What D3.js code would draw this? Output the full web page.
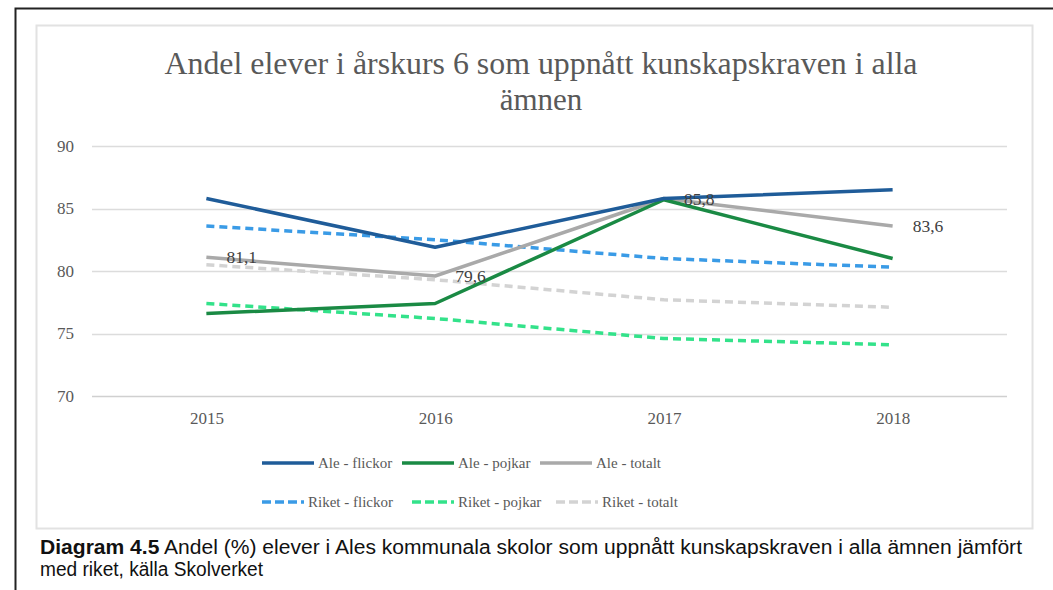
<!DOCTYPE html>
<html>
<head>
<meta charset="utf-8">
<script src="https://cdn.jsdelivr.net/npm/d3@7"></script>
<style>
  body { margin: 0; background: #fff; }
  svg { display: block; }
</style>
</head>
<body>
<div id="chart"></div>
<script>
// data
var years = ["2015", "2016", "2017", "2018"];
var yTicks = [70, 75, 80, 85, 90];
var aleFlickor = [85.8, 81.9, 85.8, 86.5];
var alePojkar = [76.6, 77.4, 85.7, 81.0];
var aleTotalt = [81.1, 79.6, 85.8, 83.6];
var riketFlickor = [83.6, 82.5, 81.0, 80.3];
var riketPojkar = [77.4, 76.2, 74.6, 74.1];
var riketTotalt = [80.5, 79.3, 77.7, 77.1];
var labelled = ["81,1", "79,6", "85,8", "83,6"]; // labels on Ale - totalt

var series = [
  {name: "Ale - flickor", values: aleFlickor, color: "#1f5c99", dash: null},
  {name: "Ale - pojkar", values: alePojkar, color: "#1a8a44", dash: null},
  {name: "Ale - totalt", values: aleTotalt, color: "#a9a9a9", dash: null},
  {name: "Riket - flickor", values: riketFlickor, color: "#3a9be6", dash: "8,5"},
  {name: "Riket - pojkar", values: riketPojkar, color: "#33e28a", dash: "8,5"},
  {name: "Riket - totalt", values: riketTotalt, color: "#d3d3d3", dash: "8,5"}
];
// draw order: dashed ones underneath
var drawOrder = [3, 4, 5, 2, 1, 0];

var W = 1053, H = 590;
var svg = d3.select("#chart").append("svg")
  .attr("width", W)
  .attr("height", H);

// page frame
svg.append("path")
  .attr("d", "M15.5," + H + "V8.5H" + W)
  .attr("fill", "none")
  .attr("stroke", "#222")
  .attr("stroke-width", 2);

// chart box
svg.append("rect")
  .attr("x", 36.5).attr("y", 25.5)
  .attr("width", 996).attr("height", 503)
  .attr("fill", "#fff")
  .attr("stroke", "#e2e2e2")
  .attr("stroke-width", 2);

var serif = "'Liberation Serif', 'DejaVu Serif', serif";

// title
var title = svg.append("text")
  .attr("text-anchor", "middle")
  .attr("font-family", serif)
  .attr("font-size", 31)
  .attr("fill", "#595959");
title.append("tspan").attr("x", 541).attr("y", 74)
  .attr("textLength", 753)
  .attr("lengthAdjust", "spacingAndGlyphs")
  .text("Andel elever i årskurs 6 som uppnått kunskapskraven i alla");
title.append("tspan").attr("x", 541).attr("y", 110)
  .text("ämnen");

// scales
var x = d3.scalePoint()
  .domain(years)
  .range([92, 1007])
  .padding(0.5);
var y = d3.scaleLinear()
  .domain([70, 90])
  .range([396, 146]);

// grid
svg.append("g")
  .selectAll("line")
  .data(yTicks)
  .enter()
  .append("line")
    .attr("x1", 92).attr("x2", 1007)
    .attr("y1", function(d) { return Math.round(y(d)) + 0.5 })
    .attr("y2", function(d) { return Math.round(y(d)) + 0.5 })
    .attr("stroke", function(d) { return d == 70 ? "#d0d0d0" : "#dcdcdc" })
    .attr("stroke-width", 1.3);

// Y axis
var yAxis = svg.append("g")
  .attr("transform", "translate(74,0)")
  .call(d3.axisLeft(y).tickValues(yTicks).tickSize(0).tickPadding(0));
yAxis.select(".domain").remove();
yAxis.selectAll("text")
  .attr("font-family", serif)
  .attr("font-size", 17)
  .attr("fill", "#595959");

// X axis
var xAxis = svg.append("g")
  .attr("transform", "translate(0,412)")
  .call(d3.axisBottom(x).tickSize(0).tickPadding(0));
xAxis.select(".domain").remove();
xAxis.selectAll("text")
  .attr("font-family", serif)
  .attr("font-size", 17)
  .attr("fill", "#595959");

// lines
var line = d3.line()
  .x(function(d, i) { return x(years[i]) })
  .y(function(d) { return y(d) });

svg.append("g")
  .selectAll("path")
  .data(drawOrder.map(function(i) { return series[i] }))
  .enter()
  .append("path")
    .attr("d", function(d) { return line(d.values) })
    .attr("fill", "none")
    .attr("stroke", function(d) { return d.color })
    .attr("stroke-width", 3.5)
    .attr("stroke-dasharray", function(d) { return d.dash })
    .attr("stroke-linejoin", "round");

// data labels on Ale - totalt
svg.append("g")
  .selectAll("text")
  .data(aleTotalt)
  .enter()
  .append("text")
    .attr("x", function(d, i) { return x(years[i]) + 20 })
    .attr("y", function(d) { return y(d) + 6 })
    .attr("font-family", serif)
    .attr("font-size", 17.5)
    .attr("fill", "#404040")
    .text(function(d, i) { return labelled[i] });

// legend
var legendRows = [
  {y: 463, xs: [262, 402, 540]},
  {y: 502, xs: [262, 412, 556]}
];
series.forEach(function(s, i) {
  var row = legendRows[Math.floor(i / 3)];
  var lx = row.xs[i % 3];
  var len = s.dash ? 42 : 52;
  var g = svg.append("g").attr("transform", "translate(" + lx + "," + row.y + ")");
  g.append("line")
    .attr("x1", 0).attr("x2", len)
    .attr("stroke", s.color)
    .attr("stroke-width", 3.5)
    .attr("stroke-dasharray", s.dash ? "9,4" : null);
  g.append("text")
    .attr("x", len + 4).attr("y", 5)
    .attr("font-family", serif)
    .attr("font-size", 15)
    .attr("fill", "#595959")
    .text(s.name);
});

// caption under the chart
var cap = svg.append("text")
  .attr("font-family", "'Liberation Sans', Arial, sans-serif")
  .attr("font-size", 20)
  .attr("fill", "#111");
var l1 = cap.append("tspan").attr("x", 40).attr("y", 554)
  .attr("textLength", 982)
  .attr("lengthAdjust", "spacingAndGlyphs");
l1.append("tspan").attr("font-weight", "bold").text("Diagram 4.5");
l1.append("tspan").text(" Andel (%) elever i Ales kommunala skolor som uppnått kunskapskraven i alla ämnen jämfört");
cap.append("tspan").attr("x", 40).attr("y", 576)
  .attr("textLength", 223)
  .attr("lengthAdjust", "spacingAndGlyphs")
  .text("med riket, källa Skolverket");
</script>
</body>
</html>
